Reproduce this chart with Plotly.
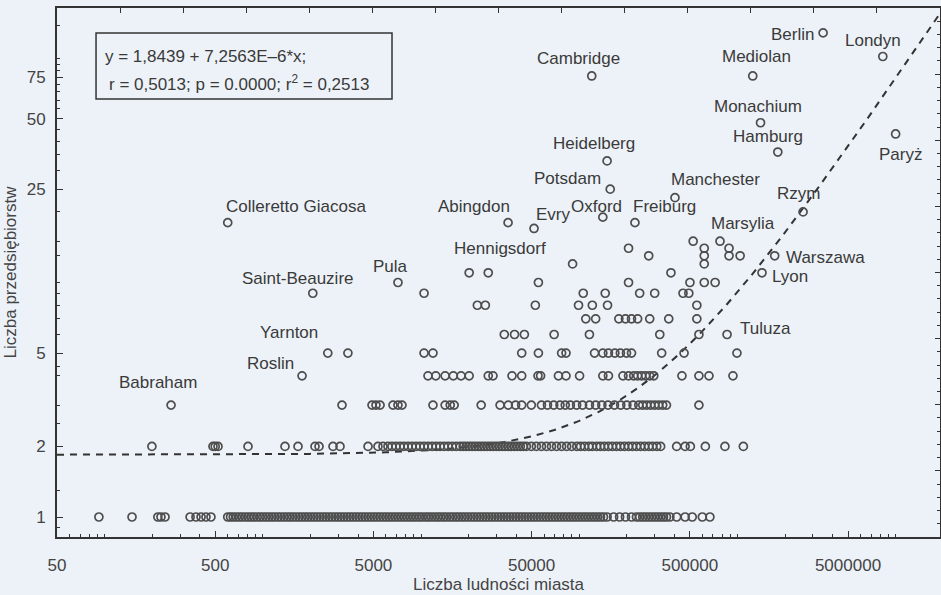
import numpy as np
import plotly.graph_objects as go

# ---------------- DATA ----------------
# Named cities: population, number of firms
nazwy = ["Berlin", "Londyn", "Mediolan", "Cambridge", "Monachium", "Hamburg", "Paryż",
         "Heidelberg", "Potsdam", "Manchester", "Rzym", "Oxford", "Abingdon", "Freiburg",
         "Colleretto Giacosa", "Evry", "Hennigsdorf", "Pula", "Saint-Beauzire", "Marsylia",
         "Warszawa", "Lyon", "Tuluza", "Yarnton", "Roslin", "Babraham"]
ludnosc_nazw = [3480000, 8300000, 1250000, 120000, 1400000, 1800000, 10000000,
                150000, 157000, 403000, 2600000, 141000, 35500, 225000,
                600, 51800, 26600, 7150, 2070, 776000,
                1720000, 1430000, 860000, 2575, 1770, 263]
firmy_nazw = [116, 92, 76, 76, 48, 36, 43,
              33, 25, 23, 20, 19, 18, 18,
              18, 17, 11, 10, 9, 15,
              13, 11, 6, 5, 4, 3]

# Other cities grouped by number of firms (population values)
ludnosc_1 = [92, 149, 217, 227, 241, 347, 378, 407, 437, 470,
             600, 625, 650, 680, 710, 740, 775, 810, 845, 880, 920, 960, 1000, 1045, 1090,
             1140, 1190, 1245, 1300, 1360, 1420, 1480, 1545, 1615, 1690, 1765, 1845, 1925,
             2010, 2100, 2195, 2295, 2400, 2505, 2620, 2735, 2860, 2990, 3120, 3260, 3410,
             3560, 3720, 3890, 4060, 4245, 4435, 4635, 4840, 5060, 5285, 5520, 5770, 6030,
             6300, 6585, 6880, 7190, 7510, 7850, 8200, 8570, 8955, 9355, 9775, 10200, 10700,
             11150, 11650, 12200, 12750, 13300, 13900, 14500, 15200, 15850, 16600, 17300,
             18100, 18900, 19750, 20650, 21550, 22550, 23550, 24600, 25700, 26850, 28050,
             29300, 30650, 32000, 33450, 34950, 36500, 38150, 39850, 41650, 43500, 45450,
             47500, 49650, 51850, 54200, 56650, 59150, 61800, 64600, 67500, 70500, 73700,
             77000, 80450, 84050, 87850, 91800, 95900, 100200, 104700, 109400, 114300,
             119500, 124800, 130400, 136300, 142400,
             150000, 165000, 180000, 196000, 214000, 230000, 241000, 252000, 263000, 275000,
             287000, 300000, 313000, 327000, 341000, 356000, 374000, 413000, 467000, 518000,
             600000, 670000]
ludnosc_2 = [199, 484, 500, 521, 806, 1381, 1669, 2137, 2266, 2777, 3076, 4624, 5342, 5750,
             6180, 6550, 6940, 7360, 7800, 8280, 8770, 9300, 9860, 10450, 11090, 11750,
             12460, 13200, 14000, 14840, 15730, 16680, 17680, 18470, 19290, 20150, 21050,
             21990, 23000, 24020, 25090, 26210, 27380, 28600, 29880, 31210, 32600, 34060,
             35640, 37230, 38890, 40630, 42440, 44340, 46320, 49800, 53600, 57700, 62100,
             66800, 71900, 77400, 83300, 89600, 96500, 102000, 108000, 115000, 121000,
             129000, 136000, 144000, 153000, 162000, 172000, 182000, 193000, 205000, 217000,
             230000, 244000, 259000, 275000, 291000, 309000, 327000, 413000, 467000, 504000,
             627000, 834000, 1090000]
ludnosc_3 = [3166, 4900, 5190, 5510, 6650, 7150, 7580, 11900, 14200, 15300, 16200, 24000,
             31600, 35600, 39600, 43300, 49800, 57700, 63000, 69000, 75600, 81600, 87900,
             96300, 105000, 116000, 127000, 139000, 152000, 167000, 183000, 200000, 219000,
             238000, 252000, 267000, 283000, 300000, 318000, 337000, 356000, 571000]
ludnosc_4 = [11070, 12400, 14200, 16000, 17900, 20150, 26600, 28500, 37600, 43300, 54900,
             57000, 73900, 82500, 100500, 141000, 153000, 189000, 205000, 221000, 234000,
             248000, 263000, 279000, 296000, 446000, 571000, 661000, 937000]
ludnosc_5 = [3450, 10450, 11900, 43300, 55200, 77400, 82500, 125000, 141000, 153000,
             168000, 182000, 199000, 214000, 332000, 460000, 993000]
ludnosc_6 = [33600, 39000, 45000, 69400, 116000, 323000, 571000]
ludnosc_7 = [110000, 127000, 178000, 196000, 214000, 234000, 279000, 368000, 554000]
ludnosc_8 = [22700, 25500, 52800, 99000, 121000, 151000, 554000]
ludnosc_9 = [10450, 106000, 146000, 241000, 300000, 453000, 493000]
ludnosc_10 = [55200, 205000, 501000, 617000, 723000]
ludnosc_11 = [20150, 380000]
ludnosc_12 = [90800, 617000]
ludnosc_13 = [275000, 617000, 885000, 1040000]
ludnosc_14 = [205000, 617000, 885000]
ludnosc_15 = [525000]

grupy = {1: ludnosc_1, 2: ludnosc_2, 3: ludnosc_3, 4: ludnosc_4, 5: ludnosc_5,
         6: ludnosc_6, 7: ludnosc_7, 8: ludnosc_8, 9: ludnosc_9, 10: ludnosc_10,
         11: ludnosc_11, 12: ludnosc_12, 13: ludnosc_13, 14: ludnosc_14, 15: ludnosc_15}

# regression from the chart: y = a + b*x
wsp_a = 1.8439
wsp_b = 7.2563E-6

x_ticks = [50, 500, 5000, 50000, 500000, 5000000]
y_ticks = [1, 2, 5, 25, 50, 75]

# ---------------- STYLE / LAYOUT ----------------
BG = "#edf2f8"
INK = "#333333"
TXT = "#3a3a3a"
FONT = "Liberation Sans, Arial, sans-serif"
FS = 17

# label offsets (pixels; dx right, dy down) relative to the marked point
offsets = {
    "Berlin": (-31, 2), "Londyn": (-10, -16), "Mediolan": (4, -19), "Cambridge": (-13, -17),
    "Monachium": (-3, -16), "Hamburg": (-10, -16), "Paryż": (5, 21), "Heidelberg": (-13, -17),
    "Potsdam": (-43, -11), "Manchester": (41, -18), "Rzym": (-5, -18), "Oxford": (-6, -11),
    "Abingdon": (-34, -16), "Freiburg": (30, -16), "Colleretto Giacosa": (68, -16),
    "Evry": (19, -14), "Hennigsdorf": (12, -24), "Pula": (-7, -16), "Saint-Beauzire": (-15, -15),
    "Marsylia": (23, -18), "Warszawa": (51, 2), "Lyon": (28, 4), "Tuluza": (38, -6),
    "Yarnton": (-39, -21), "Roslin": (-32, -12), "Babraham": (-13, -23),
}

xs, ys = [], []
for k, vals in grupy.items():
    xs += vals
    ys += [k] * len(vals)
xs += ludnosc_nazw
ys += firmy_nazw

fig = go.Figure()

# regression line
rx = np.logspace(np.log10(50), np.log10(2.0e7), 500)
ry = wsp_a + wsp_b * rx
fig.add_trace(go.Scatter(x=rx, y=ry, mode="lines",
                         line=dict(color=INK, width=2, dash="7px,6px"),
                         hoverinfo="skip", showlegend=False))

fig.add_trace(go.Scatter(x=xs, y=ys, mode="markers",
                         marker=dict(symbol="circle-open", size=8, color="#4d4d4d",
                                     line=dict(width=1.7)),
                         showlegend=False))

# dummy trace for the top/right frame axes
fig.add_trace(go.Scatter(x=[None], y=[None], xaxis="x2", yaxis="y2", showlegend=False))

annotations = []
for n, px, fy in zip(nazwy, ludnosc_nazw, firmy_nazw):
    dx, dy = offsets[n]
    annotations.append(dict(x=np.log10(px), y=np.log10(fy), xref="x", yref="y",
                            text=n, showarrow=False, xshift=dx, yshift=-dy,
                            font=dict(family=FONT, size=FS, color=TXT)))

annotations.append(dict(x=0.0521, y=0.9074, xref="paper", yref="paper", xanchor="left",
                        yanchor="middle", showarrow=False,
                        text="y = 1,8439 + 7,2563E\u20136*x;",
                        font=dict(family=FONT, size=FS, color=TXT)))
annotations.append(dict(x=0.0566, y=0.8582, xref="paper", yref="paper", xanchor="left",
                        yanchor="middle", showarrow=False,
                        text="r = 0,5013; p = 0.0000; r<sup>2</sup> = 0,2513",
                        font=dict(family=FONT, size=FS, color=TXT)))

shapes = [dict(type="rect", xref="paper", yref="paper", x0=0.0442, x1=0.3794,
               y0=0.828, y1=0.9527, line=dict(color=INK, width=1.5))]

x_minor = [m * 10 ** e for e in range(1, 8) for m in range(1, 10)
           if 50 < m * 10 ** e < 1.9e7 and m != 5]
y_minor = [0.9, 1.3, 2.5, 3, 4, 4.4, 6, 7, 8, 9, 10, 13, 15, 20, 30, 35, 40, 45,
           55, 60, 65, 70, 80, 85, 90, 125]

fig.update_layout(
    width=941, height=595,
    margin=dict(l=57, r=1, t=8, b=58),
    paper_bgcolor=BG, plot_bgcolor=BG,
    font=dict(family=FONT, size=FS, color=TXT),
    showlegend=False,
    annotations=annotations,
    shapes=shapes,
    xaxis=dict(type="log", range=[np.log10(50), 7.2805], automargin=False,
               tickvals=x_ticks, ticktext=[str(v) for v in x_ticks],
               ticks="inside", ticklen=6, tickwidth=1.3, tickcolor=INK,
               showline=True, linecolor=INK, linewidth=2,
               showgrid=False, zeroline=False,
               minor=dict(tickvals=x_minor, ticks="inside", ticklen=3, tickcolor=INK, tickwidth=1.2),
               tickfont=dict(size=FS, color="#444"),
               ticklabelstandoff=12,
               title=dict(text="Liczba ludności miasta", standoff=4,
                          font=dict(size=FS, color="#444"))),
    yaxis=dict(type="log", range=[-0.0853, 2.1706], automargin=False,
               tickvals=y_ticks, ticktext=[str(v) for v in y_ticks],
               ticks="inside", ticklen=6, tickwidth=1.3, tickcolor=INK,
               showline=True, linecolor=INK, linewidth=2,
               showgrid=False, zeroline=False,
               minor=dict(tickvals=y_minor, ticks="inside", ticklen=3, tickcolor=INK, tickwidth=1.2),
               tickfont=dict(size=FS, color="#444"),
               ticklabelstandoff=6,
               title=dict(text="Liczba przedsiębiorstw", standoff=6,
                          font=dict(size=FS, color="#444"))),
    xaxis2=dict(overlaying="x", side="top", anchor="y", range=[0, 14], dtick=1,
                ticks="inside", ticklen=5, tickwidth=1.3, tickcolor=INK,
                showticklabels=False, showline=True, linecolor=INK, linewidth=2,
                showgrid=False, zeroline=False),
    yaxis2=dict(overlaying="y", side="right", anchor="x", range=[0, 8], dtick=1,
                ticks="inside", ticklen=5, tickwidth=1.3, tickcolor=INK,
                minor=dict(dtick=0.2, ticks="inside", ticklen=3, tickcolor=INK),
                showticklabels=False, showline=True, linecolor=INK, linewidth=1.5,
                showgrid=False, zeroline=False),
)

fig.write_html("out.html",
               config={"displayModeBar": False},
               post_script="document.body.style.margin='0px';"
                           "document.body.style.background='" + BG + "';")
